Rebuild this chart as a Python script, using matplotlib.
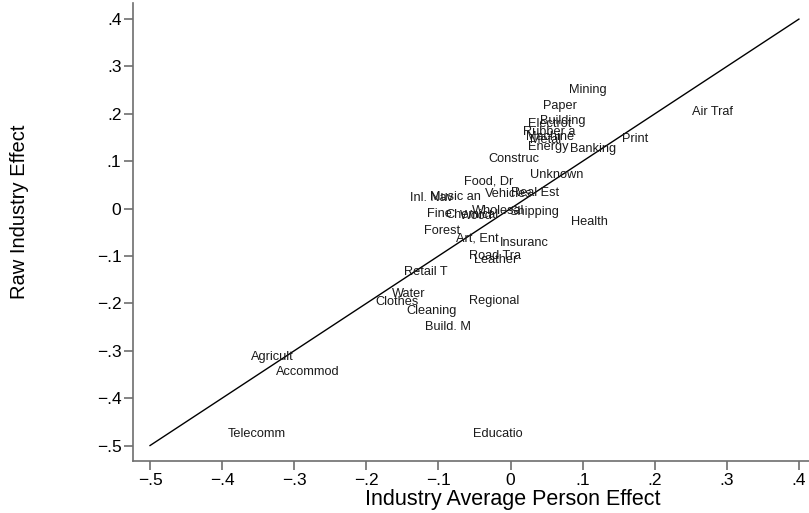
import matplotlib
matplotlib.use('Agg')
import matplotlib.pyplot as plt
import numpy as np

plt.rcParams['font.family'] = ['Liberation Sans', 'DejaVu Sans']

# industry labels (truncated to 8 chars, as in the source) and their effects
industries = ['Mining', 'Paper', 'Building', 'Electrot', 'Rubber a', 'Machine', 'Metal', 'Energy',
              'Banking', 'Print', 'Air Traf', 'Construc', 'Unknown', 'Food, Dr', 'Vehicles',
              'Real Est', 'Inl. Nav', 'Music an', 'Fine', 'Chemical', 'Wood', 'Wholesal',
              'Shipping', 'Health', 'Forest', 'Art, Ent', 'Insuranc', 'Road Tra', 'Leather',
              'Retail T', 'Water', 'Clothes', 'Cleaning', 'Regional', 'Build. M', 'Agricult',
              'Accommod', 'Telecomm', 'Educatio']
person_effect = [0.081, 0.045, 0.041, 0.024, 0.017, 0.021, 0.027, 0.024,
                 0.083, 0.155, 0.252, -0.031, 0.027, -0.065, -0.035,
                 0.001, -0.139, -0.112, -0.116, -0.091, -0.070, -0.053,
                 -0.002, 0.084, -0.120, -0.076, -0.015, -0.058, -0.051,
                 -0.148, -0.164, -0.187, -0.145, -0.058, -0.119, -0.360,
                 -0.325, -0.392, -0.052]
raw_effect = [0.250, 0.216, 0.184, 0.178, 0.161, 0.152, 0.144, 0.131,
              0.125, 0.146, 0.203, 0.104, 0.070, 0.058, 0.030,
              0.034, 0.022, 0.024, -0.012, -0.014, -0.016, -0.006,
              -0.008, -0.029, -0.048, -0.062, -0.073, -0.100, -0.109,
              -0.133, -0.181, -0.198, -0.217, -0.196, -0.250, -0.313,
              -0.345, -0.476, -0.476]

line_x = [-0.5, 0.4]
line_y = [-0.5, 0.4]

xticks = np.arange(-0.5, 0.41, 0.1)
yticks = np.arange(-0.5, 0.41, 0.1)


def stata_fmt(v):
    s = '%g' % round(v, 1)
    if s in ('0', '-0'):
        return '0'
    s = s.replace('0.', '.')
    return s.replace('-', '\u2212')


fig = plt.figure(figsize=(8.09, 5.13), dpi=100)
W, H = 809.0, 513.0
ax = fig.add_axes([133.3 / W, 1 - 460.7 / H, (809 - 133.3) / W, (460.7 - 3) / H])

ax.plot(line_x, line_y, color='black', linewidth=1.0)
for name, x, y in zip(industries, person_effect, raw_effect):
    ax.text(x, y, name, ha='left', va='center', fontsize=9.2, color='#1a1a1a')

ax.set_xlim(-0.5232, 0.414)
ax.set_ylim(-0.532, 0.434)

ax.set_xticks(xticks)
ax.set_yticks(yticks)
ax.set_xticklabels([stata_fmt(v) for v in xticks], fontsize=12.5)
ax.set_yticklabels([stata_fmt(v) for v in yticks], fontsize=12.5)
ax.tick_params(direction='out', length=6.5, width=1.2, color='#6e6e6e', pad=2)

for side in ['top', 'right']:
    ax.spines[side].set_visible(False)
for side in ['left', 'bottom']:
    ax.spines[side].set_color('#6e6e6e')
    ax.spines[side].set_linewidth(1.2)

ax.set_xlabel('Industry Average Person Effect', fontsize=15.5, va='center')
ax.set_ylabel('Raw Industry Effect', fontsize=14.5, va='center')
ax.xaxis.set_label_coords((513 - 133.3) / 675.7, -(500 - 460.7) / 457.7)
ax.yaxis.set_label_coords((20 - 133.3) / 675.7, (460.7 - 212) / 457.7)

fig.savefig('out.png', dpi=100, facecolor='white')
